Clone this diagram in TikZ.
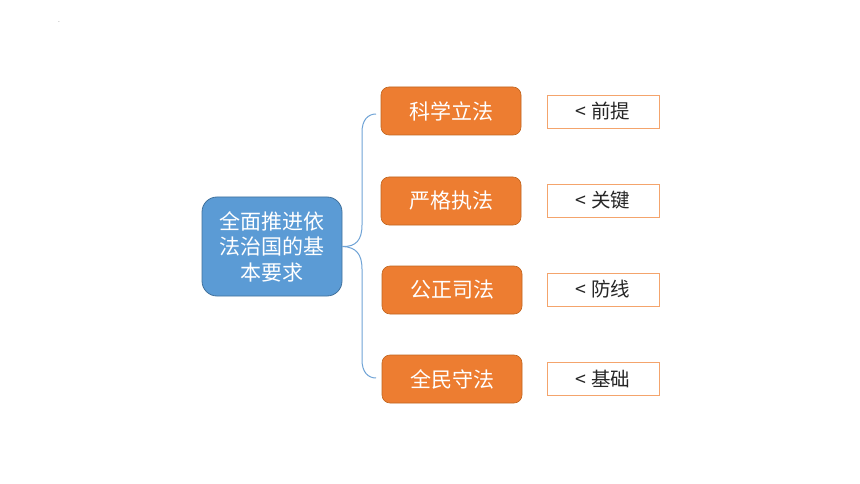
\documentclass[tikz,border=0pt]{standalone}
\usepackage{fontspec}
\setmainfont{Noto Sans CJK SC}
\newfontfamily\cjk{Noto Sans CJK SC}
\definecolor{mainblue}{HTML}{5B9BD5}
\definecolor{mainblueborder}{HTML}{41719C}
\definecolor{braceblue}{HTML}{6FA3D6}
\definecolor{mainorange}{HTML}{ED7D31}
\definecolor{orangeborder}{HTML}{C0651F}
\definecolor{lightorange}{HTML}{F4A46C}
\definecolor{labeltext}{HTML}{262626}
\begin{document}
\begin{tikzpicture}[x=1pt,y=-1pt,
  rootbox/.style={draw=mainblueborder,fill=mainblue,line width=0.8pt,rounded corners=15pt,
    minimum width=140pt,minimum height=99pt,inner sep=0pt,text=white,align=center,
    font=\cjk\fontsize{21}{25.5}\selectfont},
  itembox/.style={draw=orangeborder,fill=mainorange,line width=0.6pt,rounded corners=8pt,
    minimum width=140pt,minimum height=48pt,inner sep=0pt,text=white,
    font=\cjk\fontsize{21}{25}\selectfont},
  notebox/.style={draw=lightorange,fill=white,line width=0.8pt,
    minimum width=112pt,minimum height=33pt,inner sep=0pt,text=labeltext,
    font=\cjk\fontsize{19.5}{24}\selectfont},
  bracelink/.style={draw=braceblue,line width=1pt}
]
\useasboundingbox[fill=white] (0,0) rectangle (860,484);
\node[font=\fontsize{5}{6}\selectfont,inner sep=0pt] (dot) at (59,22) {.};
\node[rootbox] (root) at (272,246.5) {全面推进依\\法治国的基\\本要求};
\node[itembox] (a) at (451,111) {科学立法};
\node[itembox] (b) at (451,201) {严格执法};
\node[itembox] (c) at (452,290) {公正司法};
\node[itembox] (d) at (452,379) {全民守法};
\node[notebox] (na) at (603,111.5) {< 前提};
\node[notebox] (nb) at (603,200.5) {< 关键};
\node[notebox] (nc) at (603,289.5) {< 防线};
\node[notebox] (nd) at (603,378.5) {< 基础};
\coordinate (btop) at (376,114);
\coordinate (bbot) at (376,378);
\path[bracelink] (root.east) .. controls (356,247) and (362,240) .. (362,225)
  -- (362,132) .. controls (362,120) and (368,114) .. (btop);
\path[bracelink] (root.east) .. controls (356,247) and (362,254) .. (362,269)
  -- (362,360) .. controls (362,372) and (368,378) .. (bbot);
\end{tikzpicture}
\end{document}
